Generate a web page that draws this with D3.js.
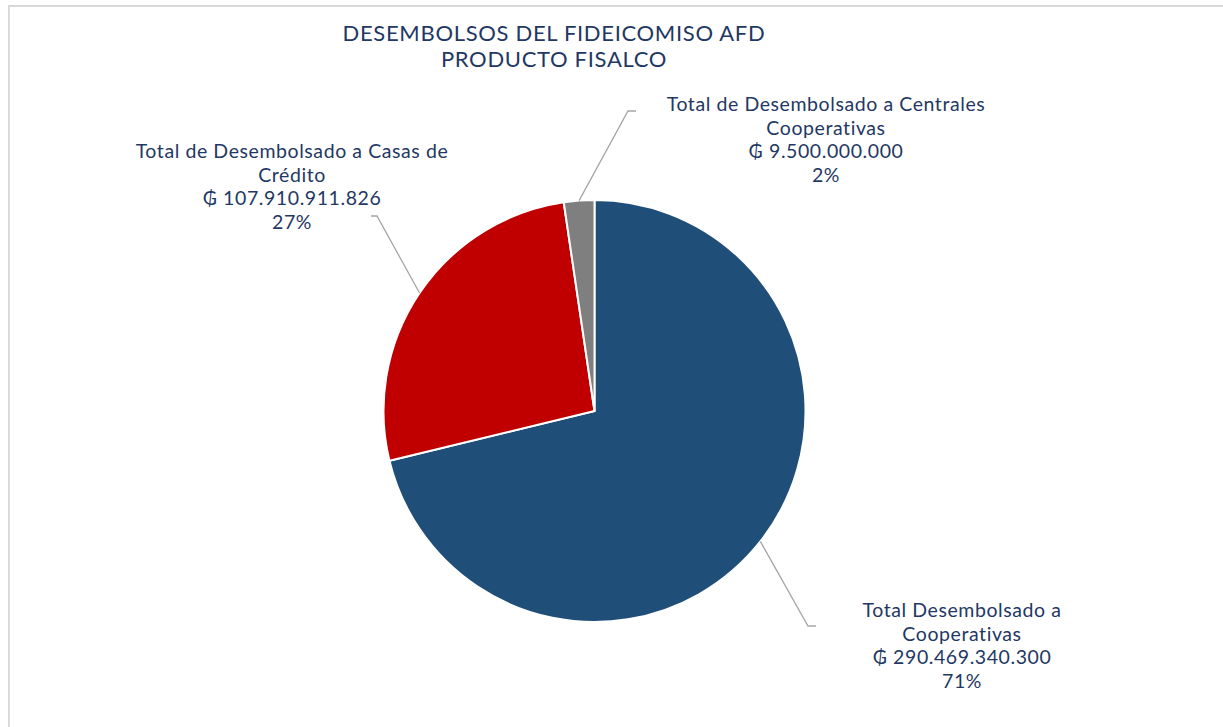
<!DOCTYPE html>
<meta charset="utf-8">
<style>
body { margin: 0; background: #fff; }
text { font-family: Lato, "Noto Sans", sans-serif; fill: #1f3864; }
.leader { fill: none; stroke: #a6a6a6; stroke-width: 1.3; }
</style>

<svg width="1223" height="727"></svg>

<script src="https://d3js.org/d3.v7.min.js"></script>
<script>

// datos
var categorias = [
  ["Total Desembolsado a", "Cooperativas"],
  ["Total de Desembolsado a Casas de", "Crédito"],
  ["Total de Desembolsado a Centrales", "Cooperativas"]
];
var montos = [290469340300, 107910911826, 9500000000];
var porcentajes = ["71%", "27%", "2%"];
var colores = ["#1f4e79", "#c00000", "#7f7f7f"];

// posicion de cada etiqueta: codo de la linea guia y centro del texto
var etiquetas = [
  {codo: [808, 626], fin: [816, 626], x: 962, y: 617},
  {codo: [377, 216], fin: [371, 216], x: 292, y: 158},
  {codo: [628, 111], fin: [636, 111], x: 826, y: 111}
];

var svg = d3.select("svg"),
    cx = 594.5, cy = 411, radio = 211;

var locale = d3.formatLocale({decimal: ",", thousands: ".", grouping: [3], currency: ["₲ ", ""]});
var fmt = locale.format("$,.0f");

// marco
svg.append("rect")
    .attr("x", 9).attr("y", 6)
    .attr("width", 1400).attr("height", 900)
    .attr("fill", "none")
    .attr("stroke", "#d9d9d9")
    .attr("stroke-width", 2);

svg.append("text")
    .attr("text-anchor", "middle")
    .attr("font-size", 22)
    .attr("letter-spacing", 0.68)
  .selectAll("tspan")
  .data(["DESEMBOLSOS DEL FIDEICOMISO AFD", "PRODUCTO FISALCO"])
  .enter().append("tspan")
    .attr("x", 554)
    .attr("y", (d, i) => 41 + i * 26)
    .text(d => d);

var pie = d3.pie().sort(null).value(d => d);
var arc = d3.arc().innerRadius(0).outerRadius(radio);
var arcos = pie(montos);

var g = svg.append("g").attr("transform", "translate(" + cx + "," + cy + ")");

g.selectAll("path")
  .data(arcos)
  .enter().append("path")
    .attr("d", arc)
    .attr("fill", (d, i) => colores[i])
    .attr("stroke", "#fff")
    .attr("stroke-width", 2)
    .attr("stroke-linejoin", "round");

// lineas guia desde el borde del sector
svg.selectAll(".leader")
  .data(arcos)
  .enter().append("polyline")
    .attr("class", "leader")
    .attr("points", (d, i) => {
      var a = (d.startAngle + d.endAngle) / 2;
      var p = [cx + radio * Math.sin(a), cy - radio * Math.cos(a)];
      var e = etiquetas[i];
      return [p, e.codo, e.fin].map(q => q.join(",")).join(" ");
    });

svg.selectAll(".etiqueta")
  .data(arcos)
  .enter().append("text")
    .attr("class", "etiqueta")
    .attr("text-anchor", "middle")
    .attr("font-size", 19.5)
    .attr("letter-spacing", 0.58)
    .each(function(d, i) {
      var lineas = categorias[i].concat([fmt(montos[i]), porcentajes[i]]);
      d3.select(this).selectAll("tspan")
        .data(lineas)
        .enter().append("tspan")
          .attr("x", etiquetas[i].x)
          .attr("y", (t, j) => etiquetas[i].y + j * 23.5)
          .text(t => t);
    });

</script>
